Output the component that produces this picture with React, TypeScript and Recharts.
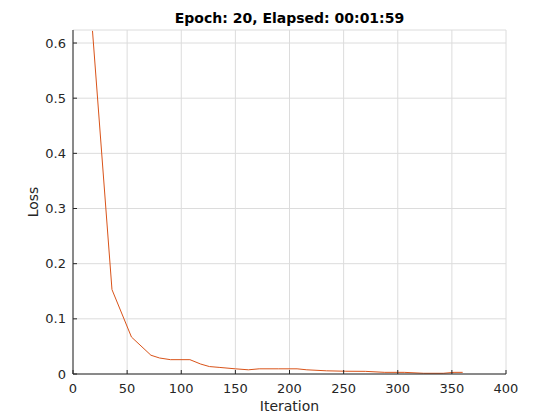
import { LineChart, Line, XAxis, YAxis, CartesianGrid } from "recharts";

const iterations = [18, 36, 54, 72, 80, 90, 108, 118, 126, 135, 150, 162, 172, 190, 207, 216, 234, 252, 270, 288, 306, 324, 342, 352, 360];
const loss = [0.622, 0.153, 0.067, 0.034, 0.029, 0.026, 0.026, 0.018, 0.0135, 0.012, 0.0094, 0.0076, 0.0094, 0.0094, 0.0094, 0.0076, 0.0058, 0.005, 0.0048, 0.003, 0.003, 0.0013, 0.0013, 0.003, 0.003];

const xTicks = [0, 50, 100, 150, 200, 250, 300, 350, 400];
const yTicks = [0, 0.1, 0.2, 0.3, 0.4, 0.5, 0.6];

const data = iterations.map((it, i) => ({ iter: it, loss: loss[i] }));

const FONT = "'DejaVu Sans', sans-serif";
const INK = "#262626";
const X_MARGIN = 19;
const Y_MARGIN = 7;

function XTick({ x, y, payload }: any) {
  const axisY = y - X_MARGIN;
  return (
    <g>
      <line x1={x} x2={x} y1={axisY} y2={axisY - 4} stroke={INK} />
      <text x={x} y={y} textAnchor="middle" fontSize={13} fill={INK} fontFamily={FONT}>
        {payload.value}
      </text>
    </g>
  );
}

function YTick({ x, y, payload }: any) {
  const axisX = x + Y_MARGIN;
  return (
    <g>
      <line x1={axisX} x2={axisX + 4} y1={y} y2={y} stroke={INK} />
      <text x={x} y={y + 4.6} textAnchor="end" fontSize={13} fill={INK} fontFamily={FONT}>
        {payload.value}
      </text>
    </g>
  );
}

function XLabel({ viewBox }: any) {
  const cx = viewBox.x + viewBox.width / 2;
  return (
    <text x={cx} y={viewBox.y + 37} textAnchor="middle" fontSize={14} fill={INK} fontFamily={FONT}>
      Iteration
    </text>
  );
}

function YLabel({ viewBox }: any) {
  const bx = viewBox.x + 38;
  const cy = viewBox.y + viewBox.height / 2;
  return (
    <text x={bx} y={cy} transform={`rotate(-90 ${bx} ${cy})`} textAnchor="middle" fontSize={14} fill={INK} fontFamily={FONT}>
      Loss
    </text>
  );
}

export default function App() {
  return (
    <div style={{ position: "absolute", left: 0, top: 0, width: 560, height: 420, background: "#fff" }}>
      <div
        style={{
          position: "absolute",
          left: 73,
          width: 433,
          top: 10,
          textAlign: "center",
          fontFamily: FONT,
          fontWeight: "bold",
          fontSize: 14,
          color: "#000",
        }}
      >
        Epoch: 20, Elapsed: 00:01:59
      </div>
      <LineChart width={560} height={420} data={data} margin={{ top: 30, right: 54, left: 0, bottom: 0 }}>
        <CartesianGrid stroke="#dcdcdc" horizontalPoints={undefined} />
        <XAxis
          type="number"
          dataKey="iter"
          domain={[0, 400]}
          ticks={xTicks}
          height={46}
          allowDataOverflow
          axisLine={{ stroke: INK }}
          tickLine={false}
          tickSize={0}
          tickMargin={X_MARGIN}
          tick={<XTick />}
          label={<XLabel />}
        />
        <YAxis
          type="number"
          domain={[0, 0.6236]}
          ticks={yTicks}
          width={73}
          allowDataOverflow
          axisLine={{ stroke: INK }}
          tickLine={false}
          tickSize={0}
          tickMargin={Y_MARGIN}
          tick={<YTick />}
          label={<YLabel />}
        />
        <Line
          type="linear"
          dataKey="loss"
          stroke="#d95319"
          strokeWidth={1}
          dot={false}
          isAnimationActive={false}
        />
      </LineChart>
    </div>
  );
}
